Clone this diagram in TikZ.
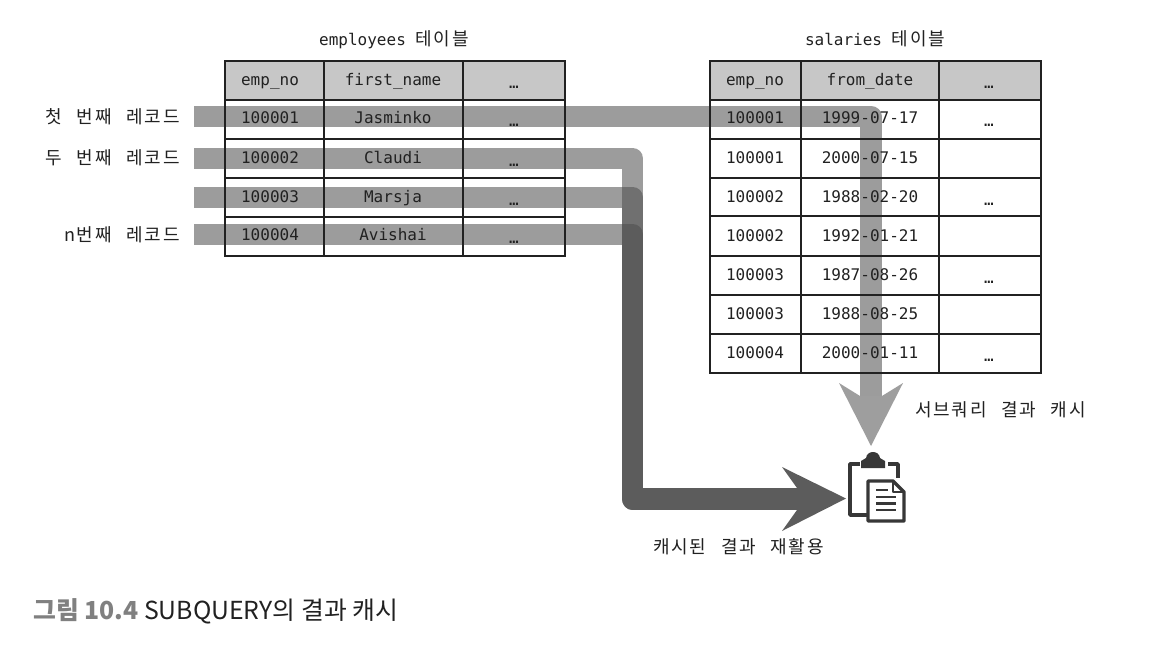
\documentclass[tikz,border=0pt]{standalone}
\usepackage{fontspec}
\setmainfont{Noto Sans CJK KR}
\newfontfamily\ko[LetterSpace=10,WordSpace=2.5]{Noto Sans CJK KR}
\newfontfamily\mono{DejaVu Sans Mono}
\definecolor{hdr}{gray}{0.78}
\definecolor{bandc}{gray}{0.30}
\definecolor{headc}{gray}{0.36}
\definecolor{lite}{gray}{0.62}
\definecolor{ink}{gray}{0.13}
\definecolor{capgray}{gray}{0.5}
\tikzset{
 grid/.style={draw=ink,line width=1.1pt},
 cell/.style={font=\mono\fontsize{12}{14}\selectfont,text=ink,inner sep=0pt,anchor=center,text height=8.5pt,text depth=-0.6pt},
 tabletitle/.style={font=\mono\fontsize{12}{14}\selectfont,text=ink,inner sep=0pt,text height=10pt,text depth=3pt},
 lab/.style={font=\ko\fontsize{13.5}{16}\selectfont,text=ink,inner sep=0pt},
 band/.style={draw=bandc,draw opacity=.55,line width=16pt,line join=round,line cap=butt},
 iconline/.style={draw=ink!90,line width=2.6pt,line join=round},
}
\begin{document}
\begin{tikzpicture}[x=0.75pt,y=-0.75pt]
\useasboundingbox (0,0) rectangle (1166,654);
\fill[white] (0,0) rectangle (1166,654);
% header shading
\fill[hdr] (225,61) rectangle (565,100);
\fill[hdr] (710,61) rectangle (1041,100);
% named points of the connectors
\coordinate (s1) at (194,116.5);
\coordinate (s2) at (194,158.5);
\coordinate (s3) at (194,197.5);
\coordinate (s4) at (194,234.5);
\coordinate (c1) at (871,116.5);
\coordinate (e1) at (871,396);
\coordinate (e2) at (797,499);
\coordinate (bend) at (632.5,499);
% connectors
\draw[band] (s1) -- (c1) -- (e1);
\draw[band] (s2) -- (632.5,158.5) -- (bend) -- (e2);
\draw[band] (s3) -- (632.5,197.5) -- (bend) -- (e2);
\draw[band] (s4) -- (632.5,234.5) -- (bend) -- (e2);
% arrow heads
\fill[lite] (839,383) -- (860,396) -- (882,396) -- (903,383) -- (871,446) -- cycle;
\fill[headc] (782,467) -- (797,488) -- (797,510) -- (782,531) -- (846,498.5) -- cycle;
% table 1
\draw[grid] (225,61) rectangle (565,256);
\foreach \y in {100,139,178,217} \draw[grid] (225,\y) -- (565,\y);
\foreach \x in {324,463} \draw[grid] (\x,61) -- (\x,256);
% table 2
\draw[grid] (710,61) rectangle (1041,373);
\foreach \y in {100,139,178,216,256,295,334} \draw[grid] (710,\y) -- (1041,\y);
\foreach \x in {801,939} \draw[grid] (\x,61) -- (\x,373);
% table titles
\node[tabletitle] (t1) at (394,41) {employees {\ko\fontsize{13.5}{16}\selectfont 테이블}};
\node[tabletitle] (t2) at (875,41) {salaries {\ko\fontsize{13.5}{16}\selectfont 테이블}};
% table 1 text
\node[cell] (a0) at (270,80) {emp\_no};
\node[cell] (b0) at (393,80) {first\_name};
\node[cell] (d0) at (514,83) {…};
\node[cell] (a1) at (270,118) {100001};
\node[cell] (b1) at (393,118) {Jasminko};
\node[cell] (d1) at (514,121) {…};
\node[cell] (a2) at (270,158) {100002};
\node[cell] (b2) at (393,158) {Claudi};
\node[cell] (d2) at (514,161) {…};
\node[cell] (a3) at (270,197) {100003};
\node[cell] (b3) at (393,197) {Marsja};
\node[cell] (d3) at (514,200) {…};
\node[cell] (a4) at (270,235) {100004};
\node[cell] (b4) at (393,235) {Avishai};
\node[cell] (d4) at (514,238) {…};
% table 2 text
\node[cell] (p0) at (755,80) {emp\_no};
\node[cell] (q0) at (870,80) {from\_date};
\node[cell] (r0) at (989,83) {…};
\node[cell] (p1) at (755,118) {100001};
\node[cell] (q1) at (870,118) {1999-07-17};
\node[cell] (r1) at (989,121) {…};
\node[cell] (p2) at (755,158) {100001};
\node[cell] (q2) at (870,158) {2000-07-15};
\node[cell] (p3) at (755,197) {100002};
\node[cell] (q3) at (870,197) {1988-02-20};
\node[cell] (r3) at (989,200) {…};
\node[cell] (p4) at (755,236) {100002};
\node[cell] (q4) at (870,236) {1992-01-21};
\node[cell] (p5) at (755,275) {100003};
\node[cell] (q5) at (870,275) {1987-08-26};
\node[cell] (r5) at (989,278) {…};
\node[cell] (p6) at (755,314) {100003};
\node[cell] (q6) at (870,314) {1988-08-25};
\node[cell] (p7) at (755,353) {100004};
\node[cell] (q7) at (870,353) {2000-01-11};
\node[cell] (r7) at (989,356) {…};
% row labels
\node[lab,anchor=east] (l1) at (180,117) {첫 번째 레코드};
\node[lab,anchor=east] (l2) at (180,158) {두 번째 레코드};
\node[lab,anchor=east] (l3) at (180,235) {n번째 레코드};
% arrow labels
\node[lab,anchor=west] (l4) at (915,410) {서브쿼리 결과 캐시};
\node[lab,anchor=west] (l5) at (653,547) {캐시된 결과 재활용};
% clipboard icon
\draw[iconline] (860,464) -- (850,464) -- (850,515) -- (868,515);
\draw[iconline] (888,464) -- (898,464) -- (898,478);
\fill[ink!90] (861,468) -- (861,461) -- (866,458) .. controls (867,450) and (879,450) .. (880,458) -- (885,461) -- (885,468) -- cycle;
\draw[iconline,fill=white] (868,481) -- (893,481) -- (904,492) -- (904,521) -- (868,521) -- cycle;
\draw[draw=ink!90,line width=1.5pt,line join=round] (893,481) -- (893,492) -- (904,492);
\foreach \yy/\xa/\xb in {490/876/888,497/876/896,503.5/876/896,510/876/896}
  \draw[draw=ink!90,line width=1.7pt] (\xa,\yy) -- (\xb,\yy);
% caption
\node[inner sep=0pt,anchor=west,font=\fontsize{18.6}{22}\selectfont] (cap) at (33,611)
  {\textcolor{capgray}{\textbf{그림 10.4}} \textcolor{ink}{SUBQUERY의 결과 캐시}};
\end{tikzpicture}
\end{document}
